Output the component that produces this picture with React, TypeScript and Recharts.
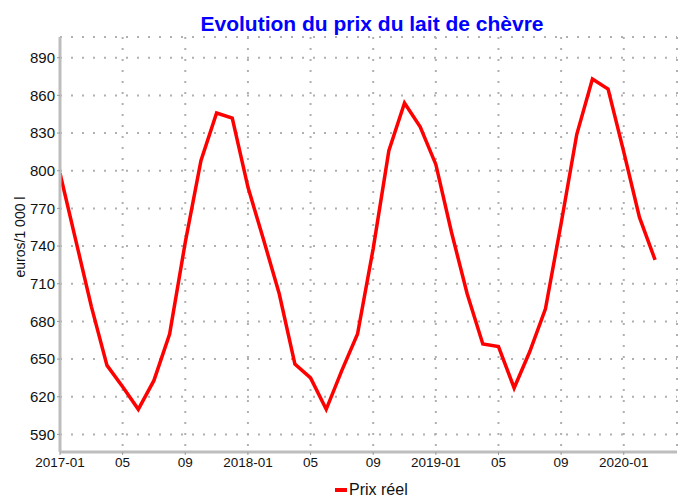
import React from "react";
import { LineChart, Line, XAxis, YAxis, CartesianGrid } from "recharts";

const months: string[] = [
  "2017-01","2017-02","2017-03","2017-04","2017-05","2017-06","2017-07","2017-08","2017-09","2017-10","2017-11","2017-12",
  "2018-01","2018-02","2018-03","2018-04","2018-05","2018-06","2018-07","2018-08","2018-09","2018-10","2018-11","2018-12",
  "2019-01","2019-02","2019-03","2019-04","2019-05","2019-06","2019-07","2019-08","2019-09","2019-10","2019-11","2019-12",
  "2020-01","2020-02","2020-03",
];

const prixReel: number[] = [
  798, 745, 692, 645, 628, 610, 633, 670, 743, 808, 846, 842,
  787, 745, 702, 646, 635, 610, 641, 670, 738, 816, 854, 835,
  805, 751, 702, 662, 660, 627, 656, 690, 758, 829, 873, 865,
  815, 763, 729,
];

const xTickPositions: number[] = [0, 4, 8, 12, 16, 20, 24, 28, 32, 36];
const xTickLabels: string[] = ["2017-01", "05", "09", "2018-01", "05", "09", "2019-01", "05", "09", "2020-01"];
const yTicks: number[] = [590, 620, 650, 680, 710, 740, 770, 800, 830, 860, 890];

const data = months.map((m, i) => ({ idx: i, month: m, prix: prixReel[i] }));

const FONT = "'Liberation Sans', Arial, sans-serif";

export default function App() {
  return (
    <div style={{ position: "absolute", left: 0, top: 0, width: 678, height: 497, background: "#fff", fontFamily: FONT, overflow: "hidden" }}>
      <div
        style={{
          position: "absolute",
          left: 60,
          width: 624,
          top: 12,
          textAlign: "center",
          color: "#0000ff",
          fontWeight: "bold",
          fontSize: 21,
          lineHeight: "24px",
          fontFamily: FONT,
          whiteSpace: "nowrap",
        }}
      >
        Evolution du prix du lait de chèvre
      </div>
      <LineChart
        width={678}
        height={497}
        data={data}
        margin={{ top: 37, right: 1, bottom: 0, left: 0 }}
      >
        <CartesianGrid stroke="#b0b0b0" strokeWidth={2} strokeDasharray="2 9" />
        <XAxis
          dataKey="idx"
          type="number"
          domain={[0, 39.4]}
          ticks={xTickPositions}
          tickFormatter={(v: number) => xTickLabels[xTickPositions.indexOf(v)] ?? ""}
          height={45}
          axisLine={{ stroke: "#bdbdbd", strokeWidth: 3 }}
          tickLine={{ stroke: "#9a9a9a" }}
          tickSize={3}
          tick={{ fill: "#111", fontSize: 13.5, fontFamily: FONT }}
          interval={0}
          allowDataOverflow
        />
        <YAxis
          type="number"
          domain={[576, 906.5]}
          ticks={yTicks}
          width={60}
          axisLine={{ stroke: "#bdbdbd", strokeWidth: 3 }}
          tickLine={{ stroke: "#9a9a9a" }}
          tickSize={3}
          tick={{ fill: "#111", fontSize: 15, fontFamily: FONT }}
          interval={0}
          allowDataOverflow
          label={{
            content: () => (
              <text
                x={20}
                y={237}
                transform="rotate(-90 20 237)"
                textAnchor="middle"
                dominantBaseline="central"
                fontSize={14}
                fontFamily={FONT}
                fill="#111"
              >
                euros/1 000 l
              </text>
            ),
          }}
        />
        <Line
          type="linear"
          dataKey="prix"
          stroke="#ff0000"
          strokeWidth={3.5}
          dot={false}
          activeDot={false}
          isAnimationActive={false}
        />
      </LineChart>
      <div
        style={{
          position: "absolute",
          left: 335,
          top: 480,
          height: 20,
          display: "flex",
          alignItems: "center",
          fontSize: 16,
          lineHeight: "18px",
          fontFamily: FONT,
          color: "#111",
          whiteSpace: "nowrap",
        }}
      >
        <span style={{ display: "inline-block", width: 12, height: 4, background: "#ff0000", marginRight: 2 }} />
        Prix réel
      </div>
    </div>
  );
}
